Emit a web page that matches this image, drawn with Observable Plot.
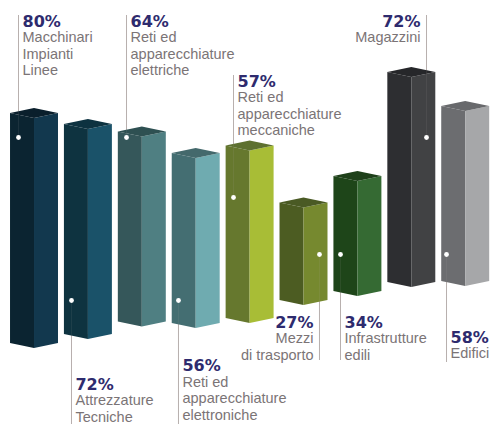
<!DOCTYPE html>
<html lang="it">
<head>
<meta charset="utf-8">
<script src="https://cdn.jsdelivr.net/npm/d3@7"></script>
<script src="https://cdn.jsdelivr.net/npm/@observablehq/plot@0.6"></script>
<style>
  html, body { margin: 0; padding: 0; background: #fff; }
  svg { display: block; }
</style>
</head>
<body>
<div id="chart"></div>
<script>
// Share of each asset class, in percent
const names = [
  "Macchinari\nImpianti\nLinee",
  "Attrezzature\nTecniche",
  "Reti ed\napparecchiature\nelettriche",
  "Reti ed\napparecchiature\nelettroniche",
  "Reti ed\napparecchiature\nmeccaniche",
  "Mezzi\ndi trasporto",
  "Infrastrutture\nedili",
  "Magazzini",
  "Edifici"
];
const shares = [80, 72, 64, 56, 57, 27, 34, 72, 58];

// Lower edge of each floating column; the vertical axis is truncated at axisOrigin
const floors = [32.4, 36, 41, 40.4, 42.4, 49.6, 53.2, 56.8, 57.2];
const axisOrigin = -12;

// Callouts: dot and leader line, then the label attached to the leader
const leaderX = [0.334, 1.317, 2.338, 3.302, 4.323, 5.918, 6.308, 7.904, 8.275];
const dotLevel = [114.8, 49.6, 114.8, 49.6, 90.8, 68, 68, 114.8, 68];
const leaderEnd = [163.6, 0, 163.6, 0, 139.6, 25.6, 25.6, 163.6, 24.8];
const labelLevel = [161.2, 16, 161.2, 23.4, 137.2, 40.8, 40.8, 161.2, 34.8];
const labelSide = ["start", "start", "start", "start", "start", "end", "start", "end", "start"];

// Face colours
const leftFace = ["#0b2431", "#0e3340", "#35575a", "#446e72", "#66782e", "#4c5c22", "#1e4519", "#2d2e31", "#6c6d70"];
const rightFace = ["#12384e", "#1a5269", "#4f7f82", "#6fabb0", "#a8bd36", "#76892f", "#356a33", "#414244", "#a6a7a9"];
const capFace = ["#0a1f2c", "#0d3240", "#2e5052", "#44696c", "#5d7030", "#4a5a24", "#1e401a", "#26272a", "#68696c"];

// Column geometry in axis units
const columnStart = 0.186;
const columnWidth = 0.89;
const rake = 2;

const facets = shares.flatMap((share, i) => {
  const low = floors[i];
  const high = low + share - axisOrigin;
  const x0 = i + columnStart;
  const xm = x0 + columnWidth / 2;
  const x1 = x0 + columnWidth;
  return [
    {id: `${i}-l`, fill: leftFace[i], x: x0, y1: low, y2: high},
    {id: `${i}-l`, fill: leftFace[i], x: xm, y1: low - rake, y2: high - rake},
    {id: `${i}-r`, fill: rightFace[i], x: xm, y1: low - rake, y2: high - rake},
    {id: `${i}-r`, fill: rightFace[i], x: x1, y1: low, y2: high},
    {id: `${i}-c`, fill: capFace[i], x: x0, y1: high, y2: high},
    {id: `${i}-c`, fill: capFace[i], x: xm, y1: high - rake, y2: high + rake},
    {id: `${i}-c`, fill: capFace[i], x: x1, y1: high, y2: high}
  ];
});

const callouts = shares.map((share, i) => ({
  share: `${share}%`,
  name: names[i],
  x: leaderX[i],
  dot: dotLevel[i],
  end: leaderEnd[i],
  label: labelLevel[i],
  side: labelSide[i]
}));
const startSide = callouts.filter((d) => d.side === "start");
const endSide = callouts.filter((d) => d.side === "end");

const labelMarks = (rows, anchor, dx) => [
  Plot.text(rows, {
    x: "x", y: "label", text: "share", textAnchor: anchor, dx,
    fontFamily: "DejaVu Sans", fontWeight: "bold", fontSize: 16, fill: "#2e2b6e"
  }),
  Plot.text(rows, {
    x: "x", y: "label", text: "name", textAnchor: anchor, dx, dy: 9, lineAnchor: "top",
    lineHeight: 1.14, fontFamily: "Liberation Sans", fontSize: 14.5, fill: "#7b7476"
  })
];

const chart = Plot.plot({
  width: 491,
  height: 424,
  margin: 0,
  x: {axis: null, domain: [0, 491 / 53.9], range: [0, 491]},
  y: {axis: null, domain: [0, 424 / 2.5], range: [424, 0]},
  color: {type: "identity"},
  marks: [
    Plot.ruleX(callouts, {x: "x", y1: "dot", y2: "end", stroke: "#b8b0ae", strokeWidth: 1}),
    Plot.areaY(facets, {x: "x", y1: "y1", y2: "y2", z: "id", fill: "fill"}),
    Plot.ruleX(callouts, {x: "x", y1: "dot", y2: "end", stroke: "#b8b0ae", strokeWidth: 1, strokeOpacity: 0.1}),
    Plot.dot(callouts, {x: "x", y: "dot", r: 2.4, fill: "#fff"}),
    ...labelMarks(startSide, "start", 4),
    ...labelMarks(endSide, "end", -6)
  ]
});

document.getElementById("chart").append(chart);
</script>
</body>
</html>
